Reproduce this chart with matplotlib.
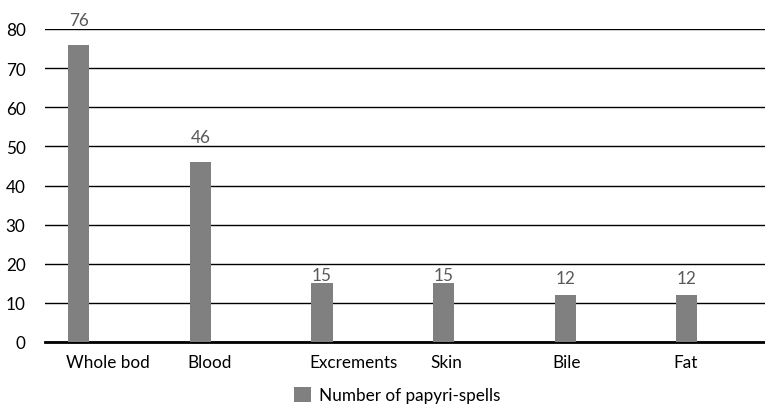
import matplotlib
matplotlib.use("Agg")
import matplotlib.pyplot as plt
from matplotlib.patches import Patch

categories = ["Whole bod", "Blood", "Excrements", "Skin", "Bile", "Fat"]
values = [76, 46, 15, 15, 12, 12]
series_name = "Number of papyri-spells"
yticks = [0, 10, 20, 30, 40, 50, 60, 70, 80]

plt.rcParams['font.family'] = ['Lato', 'DejaVu Sans']
FS = 12.3

fig = plt.figure(figsize=(7.65, 4.06), dpi=100)
ax = fig.add_axes([45/765, 1 - 343/406, 720/765, 313/406])

bar_w = 0.175
xs = list(range(len(categories)))
ax.bar(xs, values, width=bar_w, align='edge', color='#808080', zorder=3)

# label gaps (pixels) as placed in the original layout
label_gap_px = [17, 17.5, 0.5, 0.5, 9, 9]
for x, v, g in zip(xs, values, label_gap_px):
    ax.annotate(str(v), xy=(x + bar_w/2, v), xytext=(0, g * 0.72),
                textcoords='offset points', ha='center', va='bottom',
                fontsize=FS, color='#595959', annotation_clip=False)

ax.set_xlim(-0.19, 5.73)
ax.set_ylim(0, 80)
ax.set_yticks(yticks)
ax.yaxis.grid(True, color='black', linewidth=1.0, zorder=0)
ax.set_axisbelow(True)
for s in ['top', 'right', 'left']:
    ax.spines[s].set_visible(False)
ax.spines['bottom'].set_linewidth(2.0)
ax.spines['bottom'].set_color('black')
ax.tick_params(axis='y', length=0, pad=14, labelsize=FS, labelcolor='black')
ax.set_xticks([x - 0.02 for x in xs])
ax.set_xticklabels(categories, ha='left')
ax.tick_params(axis='x', length=0, pad=9, labelsize=FS, labelcolor='black')

fig.legend(handles=[Patch(facecolor='#808080', edgecolor='none')], labels=[series_name],
           loc='center', bbox_to_anchor=(397/765, 1 - 396/406), frameon=False,
           fontsize=FS, handlelength=1.0, handleheight=1.0, handletextpad=0.5)

fig.savefig("out.png", dpi=100)
